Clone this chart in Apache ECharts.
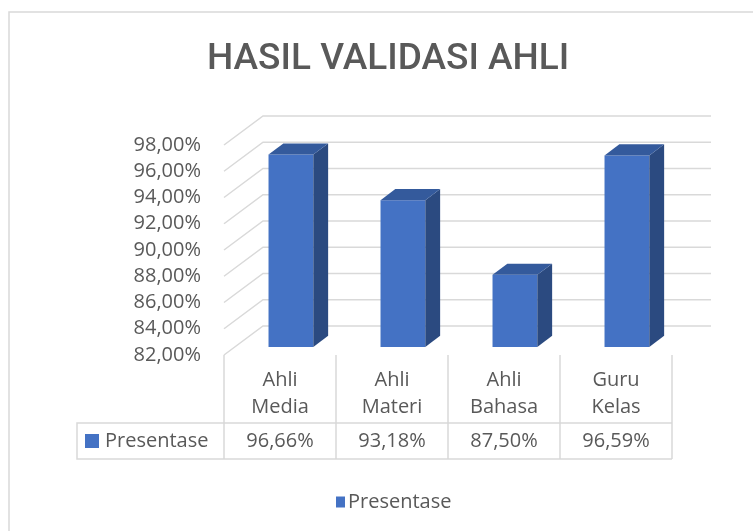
<!DOCTYPE html>
<html>
<head>
<meta charset="utf-8">
<script src="https://cdn.jsdelivr.net/npm/echarts@6/dist/echarts.min.js"></script>
<style>
  html, body { margin: 0; padding: 0; background: #fff; }
  #container { width: 753px; height: 531px; }
</style>
</head>
<body>
<div id="container"></div>
<script>
var dom = document.getElementById('container');
var myChart = echarts.init(dom);

// data
var categories = ['Ahli\nMedia', 'Ahli\nMateri', 'Ahli\nBahasa', 'Guru\nKelas'];
var values = [96.66, 93.18, 87.50, 96.59];
var yTicks = [82, 84, 86, 88, 90, 92, 94, 96, 98];
var seriesName = 'Presentase';

// 3d look: depth of the back wall in px
var DX = 39, DY = -29;
var FRONT = 0.28, DEPTH = 0.38;

function pct(v) {
    return v.toFixed(2).replace('.', ',') + '%';
}

var textColor = '#595959';
var font = '"Open Sans", "Noto Sans", sans-serif';

option = {
    animation: false,
    title: {
        text: 'HASIL VALIDASI AHLI',
        left: 207,
        top: 41,
        padding: 0,
        textStyle: {
            fontFamily: 'Roboto, sans-serif',
            fontSize: 37,
            fontWeight: 500,
            color: textColor
        }
    },
    legend: {
        data: [seriesName],
        left: 331,
        top: 487,
        icon: 'rect',
        itemWidth: 9,
        itemHeight: 11,
        itemGap: 4,
        textStyle: { fontFamily: font, fontSize: 20, color: textColor, padding: [0, 0, 0, -2] }
    },
    grid: {
        left: 224,
        right: 81,
        top: 145,
        bottom: 176
    },
    xAxis: [
        {
            type: 'category',
            data: categories,
            axisLine: { show: false },
            axisTick: {
                show: true,
                length: 104,
                lineStyle: { color: '#d9d9d9', width: 1.5 }
            },
            axisLabel: {
                margin: 12,
                fontFamily: font,
                fontSize: 20,
                lineHeight: 27,
                color: textColor
            }
        },
        {
            type: 'category',
            data: categories,
            position: 'bottom',
            offset: 68,
            axisLine: { show: false },
            axisTick: { show: false },
            axisLabel: {
                margin: 0,
                fontFamily: font,
                fontSize: 20,
                lineHeight: 36,
                color: textColor,
                formatter: function (v, i) { return pct(values[i]); }
            }
        }
    ],
    yAxis: {
        type: 'value',
        min: 82,
        max: 98,
        interval: 2,
        axisLine: { show: false },
        axisTick: { show: false },
        splitLine: { show: false },
        axisLabel: {
            margin: 23,
            fontFamily: font,
            fontSize: 20,
            color: textColor,
            formatter: function (v) { return pct(v); }
        }
    },
    graphic: [
        {
            type: 'rect',
            shape: { x: 9, y: 12, width: 800, height: 600 },
            style: { fill: 'none', stroke: '#d9d9d9', lineWidth: 1.5 },
            silent: true
        },
        {
            type: 'polyline',
            shape: { points: [[672, 423], [77, 423], [77, 459], [672, 459]] },
            style: { fill: 'none', stroke: '#d9d9d9', lineWidth: 1.5 },
            silent: true
        },
        {
            type: 'rect',
            shape: { x: 85, y: 434, width: 14, height: 14 },
            style: { fill: '#4472C4' },
            silent: true
        },
        {
            type: 'text',
            x: 105,
            y: 441,
            style: {
                text: seriesName,
                fill: textColor,
                font: '20px ' + font,
                verticalAlign: 'middle'
            },
            silent: true
        }
    ],
    series: [
        {
            name: 'grid3d',
            type: 'custom',
            clip: false,
            silent: true,
            z: 1,
            data: yTicks.map(function (v) { return [0, v]; }),
            renderItem: function (params, api) {
                var cs = params.coordSys;
                var y = api.coord([0, api.value(1)])[1];
                var x0 = cs.x, x1 = cs.x + cs.width;
                return {
                    type: 'polyline',
                    shape: { points: [[x0, y], [x0 + DX, y + DY], [x1 + DX, y + DY]] },
                    style: { fill: null, stroke: '#d9d9d9', lineWidth: 1.5 }
                };
            }
        },
        {
            name: seriesName,
            type: 'custom',
            clip: false,
            z: 3,
            itemStyle: { color: '#4472C4' },
            data: values.map(function (v, i) { return [i, v]; }),
            renderItem: function (params, api) {
                var top = api.coord([api.value(0), api.value(1)]);
                var base = api.coord([api.value(0), 82]);
                var w = api.size([1, 0])[0] * 0.4;
                var ox = DX * FRONT, oy = DY * FRONT;
                var sx = DX * DEPTH, sy = DY * DEPTH;
                var x0 = top[0] - w / 2 + ox, x1 = x0 + w;
                var yt = top[1] + oy, yb = base[1] + oy;
                return {
                    type: 'group',
                    children: [
                        {
                            type: 'polygon',
                            shape: { points: [[x0, yt], [x1, yt], [x1, yb], [x0, yb]] },
                            style: { fill: '#4472C4' }
                        },
                        {
                            type: 'polygon',
                            shape: { points: [[x1, yt], [x1 + sx, yt + sy], [x1 + sx, yb + sy], [x1, yb]] },
                            style: { fill: '#2B4A80' }
                        },
                        {
                            type: 'polygon',
                            shape: { points: [[x0, yt], [x1, yt], [x1 + sx, yt + sy], [x0 + sx, yt + sy]] },
                            style: { fill: '#345A9C' }
                        }
                    ]
                };
            }
        }
    ]
};

if (option && typeof option === 'object') {
    myChart.setOption(option, true);
}
</script>
</body>
</html>
